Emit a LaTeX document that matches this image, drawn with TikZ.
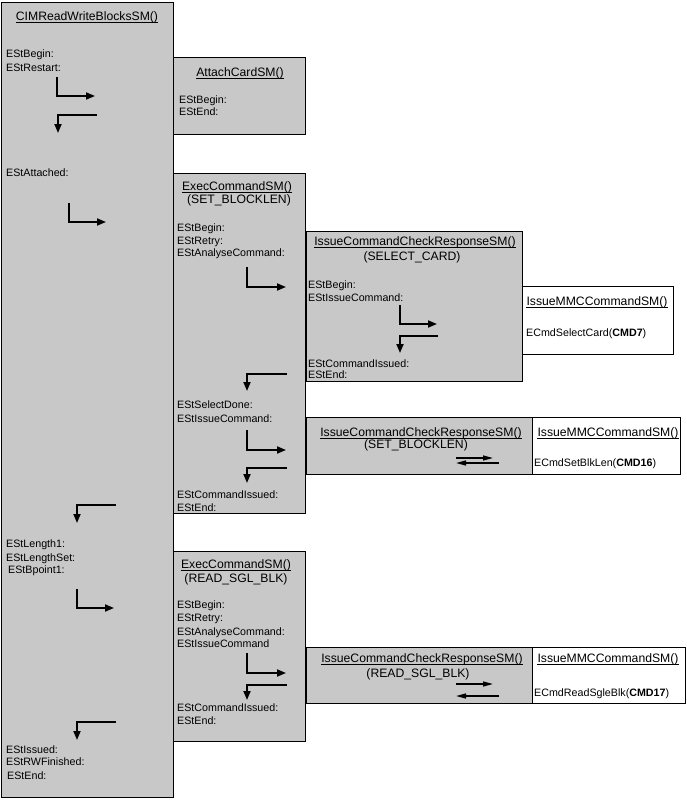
\documentclass[tikz,border=0pt]{standalone}
\usepackage{fontspec}
\setmainfont{Liberation Sans}
\usetikzlibrary{arrows.meta}
\definecolor{boxgray}{RGB}{200,200,200}
\begin{document}
\begin{tikzpicture}[x=1pt,y=-1pt,
  box/.style={draw=black, line width=1pt, fill=boxgray, anchor=north west, inner sep=0pt, outer sep=0pt},
  wbox/.style={box, fill=white},
  lbl/.style={anchor=base west, inner sep=0pt, font=\fontsize{10.7}{12}\selectfont},
  ttl/.style={anchor=base, inner sep=0pt, font=\fontsize{12.2}{14}\selectfont},
  uline/.style={line width=0.9pt},
  flow/.style={line width=1.8pt, -{Triangle[length=9pt,width=7pt]}},
  hand/.style={line width=1.4pt, -{Triangle[length=10pt,width=5pt]}},
]
\useasboundingbox (0,0) rectangle (686,800);
\fill[white] (0,0) rectangle (686,800);

% ---------- boxes ----------
\node[box, minimum width=171.5pt, minimum height=794.5pt] (main) at (1.5,2.5) {};
\node[box, minimum width=132pt, minimum height=76pt] (attach) at (173,58) {};
\node[box, minimum width=132pt, minimum height=340pt] (exec1) at (173,173) {};
\node[box, minimum width=132pt, minimum height=190pt] (exec2) at (173,551) {};
\node[box, minimum width=216pt, minimum height=150pt] (iccr1) at (306,231) {};
\node[wbox, minimum width=151pt, minimum height=68pt] (mmc1) at (522,286) {};
\node[box, minimum width=226pt, minimum height=57pt] (iccr2) at (306,417) {};
\node[wbox, minimum width=148pt, minimum height=57pt] (mmc2) at (532,417) {};
\node[box, minimum width=226pt, minimum height=56pt] (iccr3) at (306,647) {};
\node[wbox, minimum width=153pt, minimum height=56pt] (mmc3) at (532,647) {};

% ---------- titles ----------
\node[ttl] (tmain) at (87,20.5) {CIMReadWriteBlocksSM()};
\node[ttl] (tattach) at (240,76.5) {AttachCardSM()};
\node[ttl] (texec1) at (237,190.5) {ExecCommandSM()};
\node[ttl] (sexec1) at (239,203.5) {(SET\_BLOCKLEN)};
\node[ttl] (ticcr1) at (415,245.5) {IssueCommandCheckResponseSM()};
\node[ttl] (siccr1) at (412,260.5) {(SELECT\_CARD)};
\node[ttl] (tmmc1) at (597,305.5) {IssueMMCCommandSM()};
\node[ttl] (ticcr2) at (421,436.5) {IssueCommandCheckResponseSM()};
\node[ttl] (siccr2) at (416,448.5) {(SET\_BLOCKLEN)};
\node[ttl] (tmmc2) at (608,436.5) {IssueMMCCommandSM()};
\node[ttl] (texec2) at (236,568.5) {ExecCommandSM()};
\node[ttl] (sexec2) at (236,582.5) {(READ\_SGL\_BLK)};
\node[ttl] (ticcr3) at (422,662.5) {IssueCommandCheckResponseSM()};
\node[ttl] (siccr3) at (418,677.5) {(READ\_SGL\_BLK)};
\node[ttl] (tmmc3) at (608,662.5) {IssueMMCCommandSM()};
\foreach \n in {tmain,tattach,texec1,ticcr1,tmmc1,ticcr2,tmmc2,texec2,ticcr3,tmmc3}{
  \draw[uline] ([yshift=-2pt]\n.base west) -- ([yshift=-2pt]\n.base east);
}

% ---------- labels: main ----------
\node[lbl] (m1) at (6,57) {EStBegin:};
\node[lbl] (m2) at (6,71) {EStRestart:};
\node[lbl] (m3) at (6,176) {EStAttached:};
\node[lbl] (m4) at (6,547) {EStLength1:};
\node[lbl] (m5) at (6,561) {EStLengthSet:};
\node[lbl] (m6) at (8,573) {EStBpoint1:};
\node[lbl] (m7) at (6,753) {EStIssued:};
\node[lbl] (m8) at (6,765) {EStRWFinished:};
\node[lbl] (m9) at (7,779) {EStEnd:};
% attach
\node[lbl] (at1) at (179,103) {EStBegin:};
\node[lbl] (at2) at (179,115) {EStEnd:};
% exec1
\node[lbl] (e1) at (177,231) {EStBegin:};
\node[lbl] (e2) at (177,244) {EStRetry:};
\node[lbl] (e3) at (177,256) {EStAnalyseCommand:};
\node[lbl] (e4) at (177,408) {EStSelectDone:};
\node[lbl] (e5) at (177,422) {EStIssueCommand:};
\node[lbl] (e6) at (177,498) {EStCommandIssued:};
\node[lbl] (e7) at (177,511) {EStEnd:};
% iccr1
\node[lbl] (i1) at (308,288) {EStBegin:};
\node[lbl] (i2) at (308,301) {EStIssueCommand:};
\node[lbl] (i3) at (308,367) {EStCommandIssued:};
\node[lbl] (i4) at (308,378) {EStEnd:};
% exec2
\node[lbl] (f1) at (177,608) {EStBegin:};
\node[lbl] (f2) at (177,621) {EStRetry:};
\node[lbl] (f3) at (177,635) {EStAnalyseCommand:};
\node[lbl] (f4) at (177,647) {EStIssueCommand};
\node[lbl] (f5) at (177,711) {EStCommandIssued:};
\node[lbl] (f6) at (177,724) {EStEnd:};
% mmc texts
\node[lbl] (c1) at (526,336) {ECmdSelectCard(\textbf{CMD7})};
\node[lbl] (c2) at (534,466) {ECmdSetBlkLen(\textbf{CMD16})};
\node[lbl] (c3) at (534,696) {ECmdReadSgleBlk(\textbf{CMD17})};

% ---------- elbow arrows ----------
\coordinate (a1s) at (57,77);  \coordinate (a1c) at (57,96);  \coordinate (a1e) at (95,96);
\coordinate (a2s) at (97,115); \coordinate (a2c) at (58,115); \coordinate (a2e) at (58,133);
\coordinate (a3s) at (69,203); \coordinate (a3c) at (69,222); \coordinate (a3e) at (106,222);
\coordinate (a4s) at (247,267); \coordinate (a4c) at (247,287); \coordinate (a4e) at (286,287);
\coordinate (a5s) at (287,374); \coordinate (a5c) at (247,374); \coordinate (a5e) at (247,391);
\coordinate (a6s) at (400,305); \coordinate (a6c) at (400,324); \coordinate (a6e) at (437,324);
\coordinate (a7s) at (438,336); \coordinate (a7c) at (400,336); \coordinate (a7e) at (400,353);
\coordinate (a8s) at (247,430); \coordinate (a8c) at (247,450); \coordinate (a8e) at (286,450);
\coordinate (a9s) at (287,468); \coordinate (a9c) at (247,468); \coordinate (a9e) at (247,483);
\coordinate (a10s) at (116,505); \coordinate (a10c) at (77,505); \coordinate (a10e) at (77,523);
\coordinate (a11s) at (77,589); \coordinate (a11c) at (77,608); \coordinate (a11e) at (114,608);
\coordinate (a12s) at (247,653); \coordinate (a12c) at (247,673); \coordinate (a12e) at (286,673);
\coordinate (a13s) at (287,685); \coordinate (a13c) at (247,685); \coordinate (a13e) at (247,700);
\coordinate (a14s) at (116,722); \coordinate (a14c) at (77,722); \coordinate (a14e) at (77,740);
\foreach \i in {1,...,14}{
  \draw[flow] (a\i s) -- (a\i c) -- (a\i e);
}
% ---------- handshake arrows ----------
\coordinate (h1s) at (456,458); \coordinate (h1e) at (493,458);
\coordinate (h2s) at (499,463); \coordinate (h2e) at (456,463);
\coordinate (h3s) at (456,684); \coordinate (h3e) at (493,684);
\coordinate (h4s) at (499,696); \coordinate (h4e) at (456,696);
\foreach \i in {1,...,4}{
  \draw[hand] (h\i s) -- (h\i e);
}
\end{tikzpicture}
\end{document}
